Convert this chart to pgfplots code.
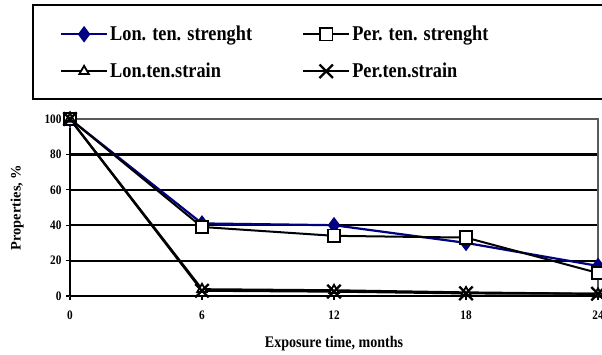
\documentclass[border=0pt]{standalone}
\usepackage{fontspec}
\setmainfont{Liberation Serif}
\newfontfamily\cond[FakeStretch=0.87]{Liberation Serif}
\usepackage{pgfplots}
\pgfplotsset{compat=1.18}
\definecolor{navyblue}{RGB}{0,0,128}
\begin{document}
\begin{tikzpicture}[x=1bp,y=1bp]
\useasboundingbox (0,0) rectangle (602,354);
\draw[line width=1.6bp] (33,255) rectangle (612,349);
\begin{axis}[
  at={(70bp,58bp)}, anchor=south west,
  scale only axis, width=528bp, height=177bp,
  xmin=0, xmax=24, ymin=0, ymax=100,
  xtick={0,6,12,18,24}, ytick={0,20,40,60,80},
  extra y ticks={100}, extra y tick style={grid=none},
  xtick pos=bottom, ytick pos=left,
  clip=false,
  axis line style={gray!70!black, line width=1.5bp},
  ymajorgrids, major grid style={black, line width=2.2bp},
  tick style={black, line width=1.2bp}, tick align=outside,
  major tick length=4bp,
  ticklabel style={font=\cond\bfseries\fontsize{13}{15}\selectfont},
  /pgf/number format/assume math mode=true,
  xticklabel style={yshift=-7bp},
  yticklabel style={xshift=-1bp},
  xlabel={Exposure time, months}, ylabel={Properties, \%},
  xlabel style={font=\cond\bfseries\fontsize{16.2}{18}\selectfont, yshift=-10bp},
  ylabel style={font=\bfseries\fontsize{14.5}{17}\selectfont, yshift=10bp},
  legend columns=2,
  legend style={draw=none, fill=none, at={(-0.025,1.548)}, anchor=north west,
    font=\cond\bfseries\fontsize{21.1}{23}\selectfont, row sep=17bp,
    nodes={inner sep=2bp},
    /tikz/every even column/.append style={column sep=48bp}},
  legend cell align=left,
  legend image code/.code={\draw[mark repeat=2,mark phase=2] plot coordinates {(0bp,0bp)(23bp,0bp)(46bp,0bp)};},
]
\draw[black, line width=2.4bp] (axis cs:0,0) -- (axis cs:0,95);
\draw[black, line width=2.4bp] (axis cs:0,0) -- (axis cs:24,0);
\addplot[navyblue, line width=2.2bp, mark=diamond*, mark size=6.5bp, mark options={fill=navyblue, draw=navyblue}]
  coordinates {(0,100)(6,41)(12,40)(18,30)(24,17)};
\addlegendentry{Lon. ten. strenght}
\addplot[black, line width=2bp, mark=square*, mark size=6.3bp, mark options={fill=white, draw=black, line width=1.8bp}]
  coordinates {(0,100)(6,39)(12,34)(18,33)(24,13)};
\addlegendentry{Per. ten. strenght}
\addplot[black, line width=2.2bp, mark=triangle*, mark size=5.5bp, mark options={fill=white, draw=black, line width=1.8bp}]
  coordinates {(0,100)(6,3.8)(12,3.2)(18,2)(24,1.2)};
\addlegendentry{Lon.ten.strain}
\addplot[black, line width=2.2bp, mark=x, mark size=9.5bp, mark options={draw=black, line width=2.3bp}]
  coordinates {(0,100)(6,3)(12,2.5)(18,1.5)(24,1.3)};
\addlegendentry{Per.ten.strain}
\end{axis}
\end{tikzpicture}
\end{document}
